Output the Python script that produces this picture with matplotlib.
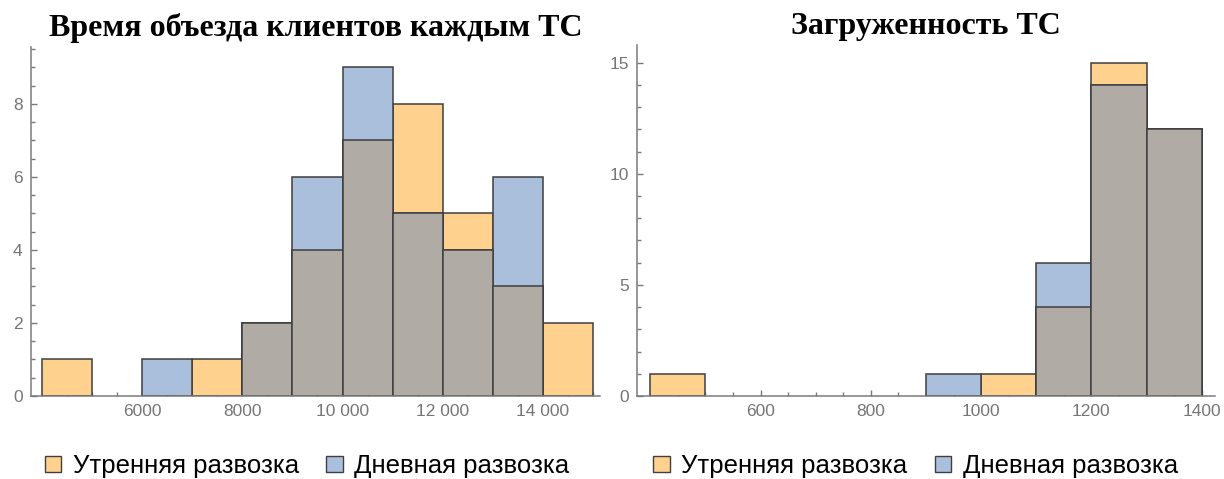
import numpy as np
import matplotlib
matplotlib.use("Agg")
import matplotlib.pyplot as plt
from matplotlib.patches import Patch
from matplotlib.ticker import MultipleLocator, FixedLocator, FuncFormatter

# Histogram data
time_edges = np.arange(4000, 15001, 1000)
time_morning = [1, 0, 0, 1, 2, 4, 7, 8, 5, 3, 2]
time_day = [0, 0, 1, 0, 2, 6, 9, 5, 4, 6, 0]
time_ticks = [6000, 8000, 10000, 12000, 14000]

load_edges = np.arange(400, 1401, 100)
load_morning = [1, 0, 0, 0, 0, 0, 1, 4, 15, 12]
load_day = [0, 0, 0, 0, 0, 1, 0, 6, 14, 12]
load_ticks = [600, 800, 1000, 1200, 1400]

titles = ["Время объезда клиентов каждым ТС", "Загруженность ТС"]
labels = ["Утренняя развозка", "Дневная развозка"]

c_morning = "#FED18E"
c_day = "#A9BFDC"
c_both = "#B0ABA4"
c_edge = "#3f3f3f"
c_axis = "#7a7a7a"

plt.rcParams["font.family"] = ["Liberation Sans", "DejaVu Sans"]

fig = plt.figure(figsize=(12.24, 4.79), dpi=100)
ax1 = fig.add_axes([0.0253, 0.1733, 0.4649, 0.7286])
ax2 = fig.add_axes([0.5204, 0.1733, 0.4722, 0.7328])


def draw_hist(ax, edges, morning, day):
    edges = np.asarray(edges)
    m = np.asarray(morning)
    d = np.asarray(day)
    both = np.minimum(m, d)
    w = edges[1] - edges[0]
    left = edges[:-1]
    for vals, col in [(m, c_morning), (d, c_day), (both, c_both)]:
        keep = vals > 0
        ax.bar(left[keep], vals[keep], width=w, align="edge", color=col,
               edgecolor=c_edge, linewidth=1.1, zorder=2)


def style_axes(ax):
    for s in ["top", "right"]:
        ax.spines[s].set_visible(False)
    for s in ["left", "bottom"]:
        ax.spines[s].set_color(c_axis)
        ax.spines[s].set_linewidth(1.1)
        ax.spines[s].set_zorder(3)
    ax.tick_params(which="both", direction="in", color=c_axis, width=1.0,
                   labelcolor="#767676", labelsize=12.5, pad=6)
    ax.tick_params(which="major", length=4.5)
    ax.tick_params(which="minor", length=3)


draw_hist(ax1, time_edges, time_morning, time_day)
ax1.set_xlim(3780, 15140)
ax1.set_ylim(0, 9.56)
ax1.xaxis.set_major_locator(FixedLocator(time_ticks))
ax1.xaxis.set_minor_locator(MultipleLocator(500))
ax1.yaxis.set_major_locator(MultipleLocator(2))
ax1.yaxis.set_minor_locator(MultipleLocator(0.5))
ax1.xaxis.set_major_formatter(FuncFormatter(
    lambda v, p: f"{v:,.0f}".replace(",", " ") if v >= 10000 else f"{v:.0f}"))

draw_hist(ax2, load_edges, load_morning, load_day)
ax2.set_xlim(376, 1424)
ax2.set_ylim(0, 15.8)
ax2.xaxis.set_major_locator(FixedLocator(load_ticks))
ax2.xaxis.set_minor_locator(MultipleLocator(50))
ax2.yaxis.set_major_locator(MultipleLocator(5))
ax2.yaxis.set_minor_locator(MultipleLocator(1))

for ax, t, lx in zip([ax1, ax2], titles, [0.485, 0.482]):
    style_axes(ax)
    ax.set_title(t, family="Liberation Serif", fontweight="bold", fontsize=23,
                 pad=8)
    handles = [Patch(facecolor=c_morning, edgecolor=c_edge, linewidth=1.0),
               Patch(facecolor=c_day, edgecolor=c_edge, linewidth=1.0)]
    ax.legend(handles, labels, loc="center", bbox_to_anchor=(lx, -0.2),
              ncol=2, frameon=False, fontsize=18.5, handlelength=0.65,
              handleheight=0.6, handletextpad=0.45, columnspacing=1.05)

fig.savefig("out.png", dpi=100)
